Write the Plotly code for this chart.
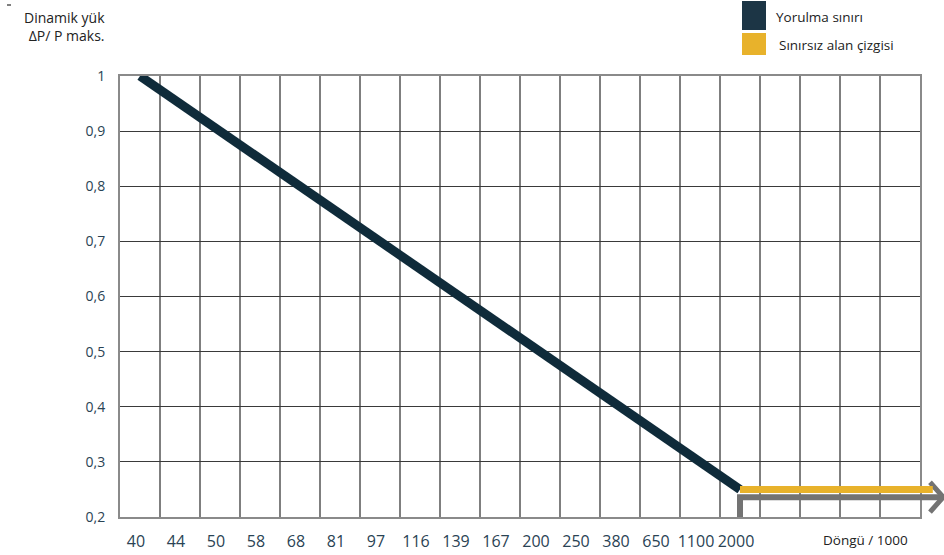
import plotly.graph_objects as go

# ---- data ----
cycle_labels = ["40", "44", "50", "58", "68", "81", "97", "116", "139", "167",
                "200", "250", "380", "650", "1100", "2000"]
n_columns = 20  # grid columns (16 labelled + 4 empty)
y_ticks = [0.2, 0.3, 0.4, 0.5, 0.6, 0.7, 0.8, 0.9, 1.0]

fatigue_cycles = ["40", "2000"]
fatigue_load = [1.0, 0.25]

unlimited_start = "2000"
unlimited_load = 0.25
marker_load = [0.2, 0.236]  # grey bracket: from axis up to its level

# ---- styling / layout constants ----
DARK = "#0f2b3a"
YELLOW = "#e8b22b"
GREY = "#737373"
TEXT = "#2a4354"
W, H = 944, 555
L, R, T, B = 120, 0, 76, 38
plot_w = W - L - R
plot_h = H - T - B
main_px = 800
x2_max = n_columns * plot_w / main_px
yellow_end = n_columns + 0.32
arrow_tip = n_columns + 0.58
arm_dx, arm_dy = 0.33, 0.027
label_shift = -0.1


def pos(label):
    return cycle_labels.index(label) + 0.5


fig = go.Figure()

fig.add_trace(go.Scatter(
    x=[pos(c) for c in fatigue_cycles], y=fatigue_load,
    mode="lines", line=dict(color=DARK, width=9),
    xaxis="x", yaxis="y", showlegend=False, hoverinfo="skip"))

xs = pos(unlimited_start)
fig.add_trace(go.Scatter(
    x=[xs, xs, arrow_tip], y=[marker_load[0], marker_load[1], marker_load[1]],
    mode="lines", line=dict(color=GREY, width=6),
    xaxis="x2", yaxis="y2", showlegend=False, hoverinfo="skip"))
fig.add_trace(go.Scatter(
    x=[arrow_tip - arm_dx, arrow_tip, arrow_tip - arm_dx],
    y=[marker_load[1] + arm_dy, marker_load[1], marker_load[1] - arm_dy],
    mode="lines", line=dict(color=GREY, width=5),
    xaxis="x2", yaxis="y2", showlegend=False, hoverinfo="skip"))
fig.add_trace(go.Scatter(
    x=[xs, yellow_end], y=[unlimited_load, unlimited_load],
    mode="lines", line=dict(color=YELLOW, width=7),
    xaxis="x2", yaxis="y2", showlegend=False, hoverinfo="skip"))

fig.update_layout(
    width=W, height=H,
    margin=dict(l=L, r=R, t=T, b=B, pad=0, autoexpand=False),
    paper_bgcolor="white", plot_bgcolor="rgba(0,0,0,0)",
    separators=", ",
    font=dict(family="Open Sans", color=TEXT),
    xaxis=dict(
        domain=[0, main_px / plot_w], range=[0, n_columns], automargin=False,
        tickmode="array",
        tickvals=[i + 0.5 + label_shift for i in range(len(cycle_labels))],
        ticktext=cycle_labels, showgrid=False, zeroline=False,
        ticks="", ticklabelstandoff=9,
        tickfont=dict(size=16, color=TEXT),
        minor=dict(tickmode="linear", tick0=0, dtick=1, showgrid=True,
                   gridcolor="#7f7f7f", gridwidth=2),
        showline=True, linecolor="#8a8a8a", linewidth=2, mirror=True,
        fixedrange=True),
    yaxis=dict(
        range=[0.2, 1.0], tickmode="array", tickvals=y_ticks, automargin=False,
        showgrid=True, gridcolor="#3a3a3a", gridwidth=1, zeroline=False,
        ticks="", ticklabelstandoff=10,
        tickfont=dict(size=14, color=TEXT),
        showline=True, linecolor="#8a8a8a", linewidth=2, mirror=True,
        fixedrange=True),
    xaxis2=dict(domain=[0, 1], range=[0, x2_max], anchor="y2", visible=False,
                automargin=False, fixedrange=True),
    yaxis2=dict(domain=[0, 1], range=[0.2, 1.0], anchor="x2", visible=False,
                automargin=False, fixedrange=True),
)


def px_x(p):
    return (p - L) / plot_w


def px_y(p):
    return 1 - (p - T) / plot_h


# axis titles
fig.add_annotation(text="Dinamik yük<br>ΔP/ P maks.", xref="paper", yref="paper",
                   x=px_x(107), y=px_y(27), xanchor="right", yanchor="middle",
                   align="right", showarrow=False,
                   font=dict(size=14, color="#222"))
fig.add_annotation(text="Döngü / 1000", xref="paper", yref="paper",
                   x=px_x(865), y=px_y(540), xanchor="center", yanchor="middle",
                   showarrow=False, font=dict(size=13.5, color="#222"))

# legend (drawn manually)
fig.add_shape(type="rect", xref="paper", yref="paper",
              x0=px_x(742), x1=px_x(766), y0=px_y(30), y1=px_y(1),
              fillcolor="#1c3545", line=dict(width=0))
fig.add_shape(type="rect", xref="paper", yref="paper",
              x0=px_x(742), x1=px_x(766), y0=px_y(55), y1=px_y(33),
              fillcolor=YELLOW, line=dict(width=0))
fig.add_annotation(text="Yorulma sınırı", xref="paper", yref="paper",
                   x=px_x(774), y=px_y(17), xanchor="left", yanchor="middle",
                   showarrow=False, font=dict(size=13.5, color="#222"))
fig.add_annotation(text="Sınırsız alan çizgisi", xref="paper", yref="paper",
                   x=px_x(777), y=px_y(45), xanchor="left", yanchor="middle",
                   showarrow=False, font=dict(size=13.5, color="#222"))
# small mark at the very top-left
fig.add_shape(type="line", xref="paper", yref="paper",
              x0=px_x(7), x1=px_x(11), y0=px_y(5), y1=px_y(5),
              line=dict(color="#555", width=1.5))

fig.write_html(
    "out.html",
    config={"displayModeBar": False},
    post_script="document.body.style.margin='0';document.body.style.overflow='hidden';",
)
